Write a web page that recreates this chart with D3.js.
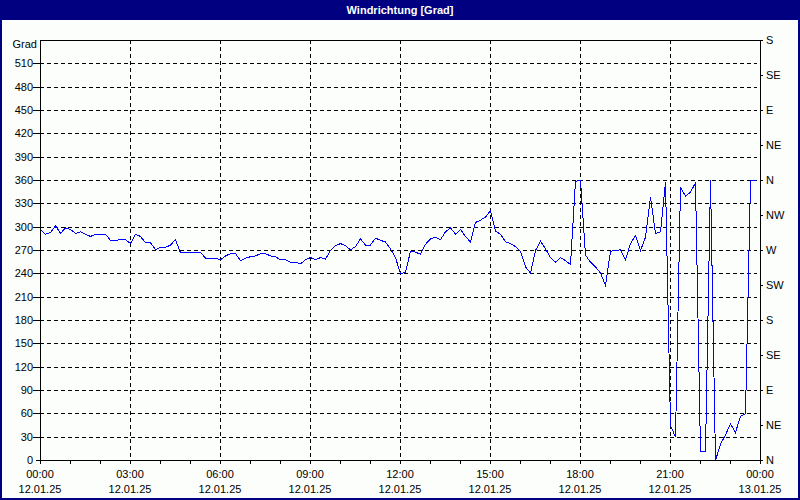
<!DOCTYPE html>
<html><head><meta charset="utf-8">
<script src="https://cdn.jsdelivr.net/npm/d3@7"></script>
<style>
body{margin:0;background:#fff;}
svg{display:block;}
text{font-family:"Liberation Sans Narrow","Arial Narrow","Liberation Sans",sans-serif;}
</style></head><body><svg id="c" width="800" height="500"></svg>
<script>
const title = "Windrichtung [Grad]";
const yUnit = "Grad";
const leftTicks = [0,30,60,90,120,150,180,210,240,270,300,330,360,390,420,450,480,510];
const rightTickValues = [0,45,90,135,180,225,270,315,360,405,450,495,540];
const rightTickLabels = ["N","NE","E","SE","S","SW","W","NW","N","NE","E","SE","S"];
const startTime = new Date(2025,0,12,0,0);
const endTime = new Date(2025,0,13,0,0);
const sampleMinutes = 10;
const values = [
297,291,293,302,292,299,297,292,294,291,288,291,291,291,283,283,284,284,279,291,
288,280,280,271,274,274,277,284,267,268,268,268,268,260,260,260,258,263,266,266,
257,260,262,263,266,266,263,262,258,258,255,255,253,258,261,258,261,259,270,276,
279,276,271,275,285,277,277,286,283,281,272,261,240,242,269,268,265,278,285,287,
284,294,299,291,297,288,281,306,309,313,321,295,291,281,279,275,269,249,241,270,
282,272,261,255,261,257,252,359,360,264,255,249,241,225,269,270,271,258,279,289,
270,287,339,292,294,358,45,30,351,340,345,357,11,11,360,0,21,33,47,36,
57,60,360,360
];

const W = 800, H = 500;
const m = {l:40, r:40, t:40, b:40};
const svg = d3.select("#c");

// window frame
svg.append("rect").attr("x",0).attr("y",0).attr("width",W).attr("height",H).attr("fill","#000080");
svg.append("rect").attr("x",2).attr("y",20).attr("width",W-4).attr("height",H-22).attr("fill","#fcfefc");
svg.append("text").attr("x",W/2).attr("y",14).attr("text-anchor","middle")
  .attr("fill","#fff").attr("font-weight","bold").attr("font-size","11px")
  .style("font-family","'Liberation Sans',sans-serif").text(title);

const x = d3.scaleTime().domain([startTime,endTime]).range([m.l, W-m.r]);
const y = d3.scaleLinear().domain([0,540]).range([H-m.b, m.t]);

const data = values.map((v,i)=>({t:new Date(startTime.getTime()+i*sampleMinutes*60000), v}));

// grid
const g = svg.append("g").attr("shape-rendering","crispEdges");
g.selectAll(".hg").data(leftTicks.filter(d=>d>0)).join("line")
  .attr("x1",m.l-7).attr("x2",W-m.r-3)
  .attr("y1",d=>y(d)+0.5).attr("y2",d=>y(d)+0.5)
  .attr("stroke","#000").attr("stroke-dasharray","4,3");
const majorTimes = d3.timeHour.every(3).range(startTime, d3.timeMinute.offset(endTime,1));
g.selectAll(".vg").data(majorTimes.filter(d=>d>startTime && d<endTime)).join("line")
  .attr("x1",d=>x(d)+0.5).attr("x2",d=>x(d)+0.5)
  .attr("y1",m.t).attr("y2",H-m.b)
  .attr("stroke","#000").attr("stroke-dasharray","4,3");

// line
svg.append("path").datum(data)
  .attr("d", d3.line().x(d=>x(d.t)+0.5).y(d=>y(d.v)+0.5))
  .attr("fill","none").attr("stroke","#0000ff").attr("stroke-width",1)
  .attr("shape-rendering","crispEdges");

// frame
svg.append("rect").attr("x",m.l+0.5).attr("y",m.t+0.5)
  .attr("width",W-m.l-m.r).attr("height",H-m.t-m.b)
  .attr("fill","none").attr("stroke","#000").attr("shape-rendering","crispEdges");

// left axis
const yl = d3.axisLeft(y).tickValues(leftTicks).tickSize(4).tickPadding(3).tickFormat(d3.format("d"));
const gl = svg.append("g").attr("transform",`translate(${m.l},0)`).call(yl);
gl.select(".domain").remove();
gl.selectAll("text").attr("font-size","11px").attr("fill","#000").style("font-family",null);
gl.selectAll("line").attr("stroke","#000").attr("shape-rendering","crispEdges");
svg.append("text").attr("x",m.l-3).attr("y",y(540)+8).attr("text-anchor","end")
  .attr("font-size","11px").attr("fill","#000").text(yUnit);

// right axis
const yr = d3.axisRight(y).tickValues(rightTickValues).tickSize(3).tickPadding(3)
  .tickFormat((d,i)=>rightTickLabels[i]);
const gr = svg.append("g").attr("transform",`translate(${W-m.r},0)`).call(yr);
gr.select(".domain").remove();
gr.selectAll("text").attr("font-size","11px").attr("fill","#000").style("font-family",null);
gr.selectAll("line").attr("stroke","#000").attr("shape-rendering","crispEdges");

// bottom axis
const minorTimes = d3.timeHour.every(1).range(startTime, d3.timeMinute.offset(endTime,1));
const xb = d3.axisBottom(x).tickValues(minorTimes).tickSize(4).tickFormat("");
const gb = svg.append("g").attr("transform",`translate(0,${H-m.b})`).call(xb);
gb.select(".domain").remove();
gb.selectAll("line").attr("stroke","#000").attr("shape-rendering","crispEdges");
const fmtT = d3.timeFormat("%H:%M"), fmtD = d3.timeFormat("%d.%m.%y");
const lab = svg.append("g");
lab.selectAll(".tl").data(majorTimes).join("text")
  .attr("x",d=>x(d)).attr("y",H-m.b+18).attr("text-anchor","middle")
  .attr("font-size","11px").attr("fill","#000").text(d=>fmtT(d));
lab.selectAll(".dl").data(majorTimes).join("text")
  .attr("x",d=>x(d)).attr("y",H-m.b+33).attr("text-anchor","middle")
  .attr("font-size","11px").attr("fill","#000").text(d=>fmtD(d));
</script></body></html>
